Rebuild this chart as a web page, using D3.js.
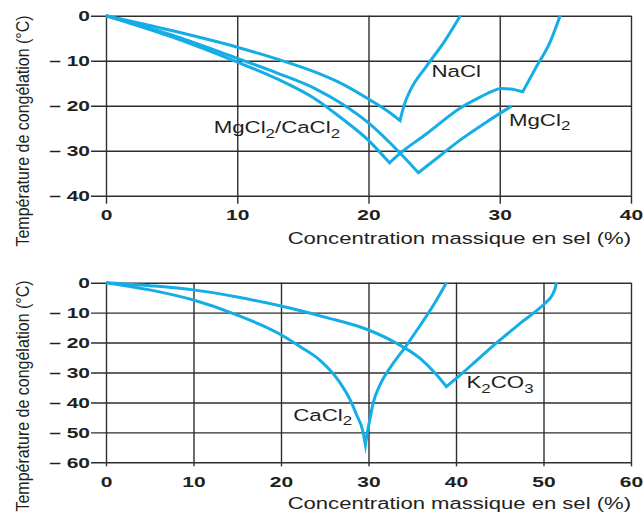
<!DOCTYPE html>
<html>
<head>
<meta charset="utf-8">
<script src="https://cdn.jsdelivr.net/npm/d3@7"></script>
<style>
  html, body { margin: 0; padding: 0; background: #fff; }
  svg { display: block; }
</style>
</head>
<body>
<svg id="chart" width="644" height="514"></svg>
<script>
// Freezing temperature of de-icing salt solutions versus salt mass concentration.

// ---- Upper panel: NaCl, MgCl2, MgCl2/CaCl2 ----
const topXTicks = [0, 10, 20, 30, 40];
const topYTicks = [0, -10, -20, -30, -40];
const topYTickLabels = ["0", "– 10", "– 20", "– 30", "– 40"];

const naclConc = [0, 5, 10, 13, 16, 18.1, 20.1, 21.5, 22.4, 22.7, 23.2, 24.4, 25.7, 27.0];
const naclTemp = [0, -3.3, -7.0, -9.6, -12.6, -15.3, -18.7, -21.3, -23.3, -20.0, -16.5, -11.3, -6.1, 0];
const naclCorners = [8];

const mgcl2Conc = [0, 5, 10, 13, 16, 18, 20, 21.6, 22.4, 24.4, 27.0, 28.5, 29.5, 30.1, 30.8, 31.75, 32.2, 32.8, 33.8, 34.6];
const mgcl2Temp = [0, -4.7, -10.3, -14.0, -18.6, -22.9, -27.7, -32.7, -30.6, -26.3, -20.5, -18.1, -16.7, -16.2, -16.3, -16.9, -14.5, -11.3, -6.1, 0];
const mgcl2Corners = [7, 15];

const mixConc = [0, 5, 10, 13, 16, 18, 20, 22.4, 23.8, 25.5, 27.0, 29.0, 30.9];
const mixTemp = [0, -4.3, -9.5, -12.7, -16.3, -19.6, -23.8, -30.5, -34.9, -31.0, -27.6, -23.6, -20.1];
const mixCorners = [8];

const topLabelText = ["NaCl", "MgCl_2", "MgCl_2/CaCl_2"];
const topLabelConc = [24.8, 30.7, 8.2];
const topLabelTemp = [-13.6, -24.5, -26.1];

// ---- Lower panel: CaCl2, K2CO3 ----
const botXTicks = [0, 10, 20, 30, 40, 50, 60];
const botYTicks = [0, -10, -20, -30, -40, -50, -60];
const botYTickLabels = ["0", "– 10", "– 20", "– 30", "– 40", "– 50", "– 60"];

const k2co3Conc = [0, 5, 10, 15, 20, 25, 30, 33, 35.9, 37.6, 38.9, 40.5, 42.5, 44.6, 47.5, 50.2, 50.9, 51.3, 51.5];
const k2co3Temp = [0, -1.0, -2.4, -4.8, -7.8, -11.5, -15.8, -19.9, -25.3, -30.2, -34.7, -30.8, -25.6, -20.2, -13.2, -6.8, -4.6, -2.2, 0];
const k2co3Corners = [10];

const cacl2Conc = [0, 5, 10, 15, 20, 22.2, 24.5, 26.7, 28.0, 28.65, 29.3, 29.65, 29.9, 30.2, 30.55, 31.3, 32.5, 34.2, 35.9, 37.4, 38.9];
const cacl2Temp = [0, -2.4, -5.8, -10.8, -17.4, -21.4, -26.0, -33.2, -39.7, -44.2, -49.0, -54.2, -49.5, -45.0, -40.0, -34.2, -28.3, -21.5, -14.3, -7.6, 0];
const cacl2Corners = [11];

const botLabelText = ["K_2CO_3", "CaCl_2"];
const botLabelConc = [41.2, 21.4];
const botLabelTemp = [-35.3, -46.1];

const xTitle = "Concentration massique en sel (%)";
const yTitle = "Température de congélation (°C)";

// ---- styling ----
const FONT = "'Liberation Sans', Arial, Helvetica, sans-serif";
const INK = "#231f20";
const CURVE = "#14ade6";
const GRID = "#2e2e2e";

const svg = d3.select("#chart");
svg.append("rect").attr("width", 644).attr("height", 514).attr("fill", "#fff");

const plotLeft = 106, plotRight = 631, tickLeft = 91;

function drawPanel(cfg) {
  const x = d3.scaleLinear().domain(cfg.xDomain).range([plotLeft, plotRight]);
  const y = d3.scaleLinear().domain(cfg.yDomain).range([cfg.top, cfg.bottom]);
  const g = svg.append("g");

  // horizontal grid lines, extended left as tick marks
  const yAxis = d3.axisLeft(y)
    .tickValues(cfg.yTicks)
    .tickSize(plotRight - tickLeft)
    .tickPadding(0)
    .tickFormat((d, i) => cfg.yTickLabels[i]);
  const gy = g.append("g")
    .attr("transform", `translate(${plotRight},0)`)
    .call(yAxis);
  gy.select(".domain").remove();
  gy.selectAll(".tick line").attr("stroke", GRID).attr("stroke-width", 1.4);
  gy.selectAll(".tick text")
    .attr("x", 0).attr("dy", "0.36em")
    .attr("transform", `translate(${-(plotRight - tickLeft) - 1},0) scale(1.5,1)`)
    .attr("fill", INK)
    .style("font", `bold 14px ${FONT}`);

  // vertical grid lines, extended below as tick marks
  const xAxis = d3.axisBottom(x)
    .tickValues(cfg.xTicks)
    .tickSize(cfg.bottom - cfg.top + cfg.tickDown)
    .tickFormat(d3.format("d"));
  const gx = g.append("g")
    .attr("transform", `translate(0,${cfg.top})`)
    .call(xAxis);
  gx.select(".domain").remove();
  gx.selectAll(".tick line").attr("stroke", GRID).attr("stroke-width", 1.4);
  gx.selectAll(".tick text")
    .attr("y", 0).attr("dy", null)
    .attr("transform", `translate(0,${cfg.labelBaseline - cfg.top}) scale(1.5,1)`)
    .attr("fill", INK)
    .style("font", `bold 14px ${FONT}`);

  // curves: smooth branches joined with sharp corners at eutectic points
  const line = d3.line().x(d => x(d[0])).y(d => y(d[1])).curve(d3.curveMonotoneX);
  cfg.series.forEach(s => {
    const pts = s.conc.map((c, i) => [c, s.temp[i]]);
    const cuts = [0, ...s.corners, pts.length - 1];
    let d = "";
    for (let k = 0; k < cuts.length - 1; k++) {
      const seg = line(pts.slice(cuts[k], cuts[k + 1] + 1));
      d += k === 0 ? seg : seg.replace(/^M[-\d.,e]*/, "");
    }
    g.append("path")
      .attr("d", d)
      .attr("fill", "none")
      .attr("stroke", CURVE)
      .attr("stroke-width", 3)
      .attr("stroke-linejoin", "miter")
      .attr("stroke-miterlimit", 10);
  });

  // series labels with subscripts
  cfg.labels.text.forEach((txt, i) => {
    const t = g.append("text")
      .attr("transform", `translate(${x(cfg.labels.conc[i])},${y(cfg.labels.temp[i])}) scale(1.35,1)`)
      .attr("fill", INK)
      .style("font", `16.5px ${FONT}`);
    const parts = txt.split(/_(\d)/).filter(p => p !== "");
    let lowered = false;
    parts.forEach((p, j) => {
      const isSub = /^\d$/.test(p) && j > 0;
      const span = t.append("tspan").text(p);
      if (isSub) {
        span.attr("dy", 4.5).style("font-size", "12.5px");
        lowered = true;
      } else if (lowered) {
        span.attr("dy", -4.5);
        lowered = false;
      }
    });
  });

  // axis titles
  svg.append("text")
    .attr("transform", `translate(${plotRight},${cfg.xTitleBaseline}) scale(1.38,1)`)
    .attr("text-anchor", "end")
    .attr("fill", INK)
    .style("font", `16px ${FONT}`)
    .text(xTitle);

  svg.append("text")
    .attr("transform", `translate(29,${cfg.yTitleCenter}) scale(1.1,1) rotate(-90)`)
    .attr("text-anchor", "middle")
    .attr("fill", INK)
    .style("font", `16px ${FONT}`)
    .text(yTitle);
}

drawPanel({
  xDomain: [0, 40], yDomain: [0, -40],
  top: 15.7, bottom: 195.7, tickDown: 8,
  xTicks: topXTicks, yTicks: topYTicks, yTickLabels: topYTickLabels,
  labelBaseline: 219.5, xTitleBaseline: 243.5, yTitleCenter: 131,
  series: [
    { conc: naclConc, temp: naclTemp, corners: naclCorners },
    { conc: mgcl2Conc, temp: mgcl2Temp, corners: mgcl2Corners },
    { conc: mixConc, temp: mixTemp, corners: mixCorners }
  ],
  labels: { text: topLabelText, conc: topLabelConc, temp: topLabelTemp }
});

drawPanel({
  xDomain: [0, 60], yDomain: [0, -60],
  top: 282.7, bottom: 462.3, tickDown: 4,
  xTicks: botXTicks, yTicks: botYTicks, yTickLabels: botYTickLabels,
  labelBaseline: 486.5, xTitleBaseline: 509, yTitleCenter: 396,
  series: [
    { conc: k2co3Conc, temp: k2co3Temp, corners: k2co3Corners },
    { conc: cacl2Conc, temp: cacl2Temp, corners: cacl2Corners }
  ],
  labels: { text: botLabelText, conc: botLabelConc, temp: botLabelTemp }
});
</script>
</body>
</html>
